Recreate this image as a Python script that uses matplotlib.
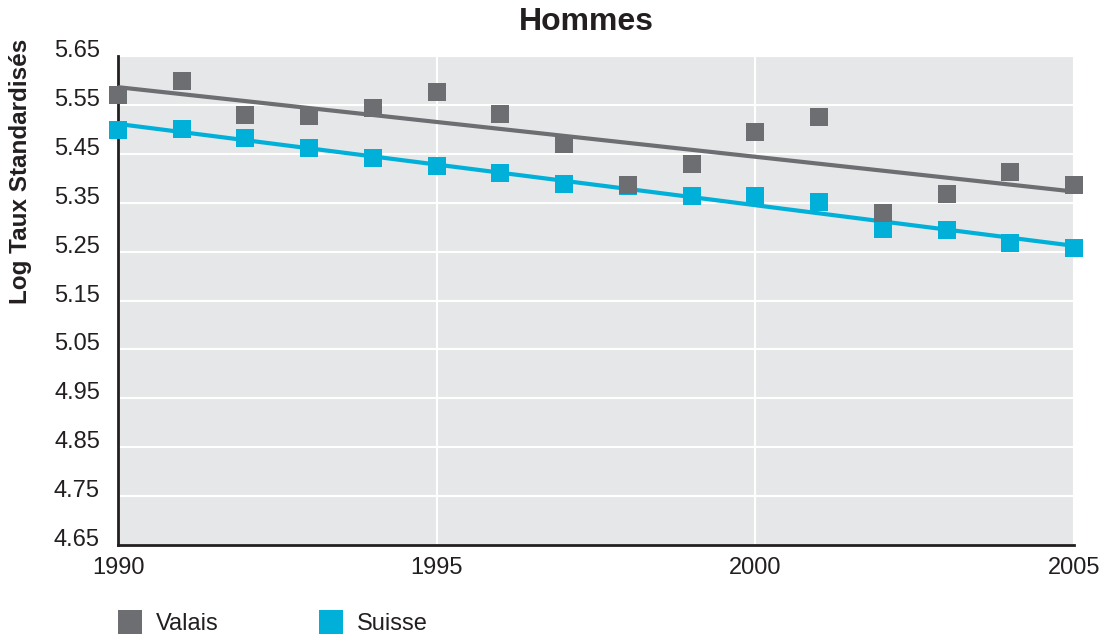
import numpy as np
import matplotlib
matplotlib.use("Agg")
import matplotlib.pyplot as plt
from matplotlib.lines import Line2D
from matplotlib.transforms import ScaledTranslation

plt.rcParams['font.family'] = ['Liberation Sans', 'DejaVu Sans']

years = np.arange(1990, 2006)
valais = [5.570, 5.598, 5.529, 5.527, 5.543, 5.576, 5.531, 5.471,
          5.386, 5.429, 5.494, 5.525, 5.328, 5.367, 5.412, 5.386]
suisse = [5.499, 5.500, 5.482, 5.461, 5.441, 5.426, 5.410, 5.388,
          5.385, 5.363, 5.363, 5.351, 5.296, 5.294, 5.267, 5.257]
yticks = [4.65, 4.75, 4.85, 4.95, 5.05, 5.15, 5.25, 5.35, 5.45, 5.55, 5.65]
xticks = [1990, 1995, 2000, 2005]

grey = '#6d6e71'
cyan = '#00b0d8'
dark = '#231f20'

fig = plt.figure(figsize=(11.03, 6.37), dpi=100)
ax = fig.add_axes([118 / 1103, 1 - 545 / 637, (1074 - 118) / 1103, (545 - 56) / 637])
ax.set_facecolor('#e6e7e8')

# regression lines then the points
for vals, col in [(valais, grey), (suisse, cyan)]:
    a, b = np.polyfit(years, vals, 1)
    ax.plot(years, a * years + b, color=col, lw=3, zorder=3, solid_capstyle='butt')
for vals, col in [(suisse, cyan), (valais, grey)]:
    ax.plot(years, vals, 's', color=col, ms=12.5, mew=0, zorder=4, clip_on=False)

ax.set_xlim(1990, 2005)
ax.set_ylim(4.65, 5.65)
ax.set_xticks(xticks)
ax.set_yticks(yticks)
ax.set_yticklabels([f'{v:.2f}' for v in yticks])
ax.grid(True, color='white', lw=1.5)
ax.set_axisbelow(True)
ax.tick_params(length=0, labelsize=17, colors=dark)
ax.tick_params(axis='y', pad=13)
ax.tick_params(axis='x', pad=9)
off = ScaledTranslation(0, 7.5 / 100, fig.dpi_scale_trans)
for lab in ax.get_yticklabels():
    lab.set_transform(lab.get_transform() + off)

for s in ['top', 'right']:
    ax.spines[s].set_visible(False)
for s in ['left', 'bottom']:
    ax.spines[s].set_color(dark)
    ax.spines[s].set_linewidth(2)

fig.text(586 / 1103, 1 - 22 / 637, 'Hommes', ha='center', va='center',
         fontsize=23, fontweight='bold', color=dark)
fig.text(21 / 1103, 1 - 171 / 637, 'Log Taux Standardisés', ha='center', va='center',
         rotation=90, fontsize=17.5, fontweight='bold', color=dark)

handles = [Line2D([], [], ls='none', marker='s', ms=17, mew=0, color=grey),
           Line2D([], [], ls='none', marker='s', ms=17, mew=0, color=cyan)]
fig.legend(handles, ['Valais', 'Suisse'], loc='center left',
           bbox_to_anchor=(118 / 1103, 1 - 624 / 637), ncol=2, frameon=False,
           fontsize=17, borderpad=0, borderaxespad=0, handlelength=1.0,
           handletextpad=0.6, columnspacing=4.25, labelcolor=dark)

fig.savefig('out.png', dpi=100)
